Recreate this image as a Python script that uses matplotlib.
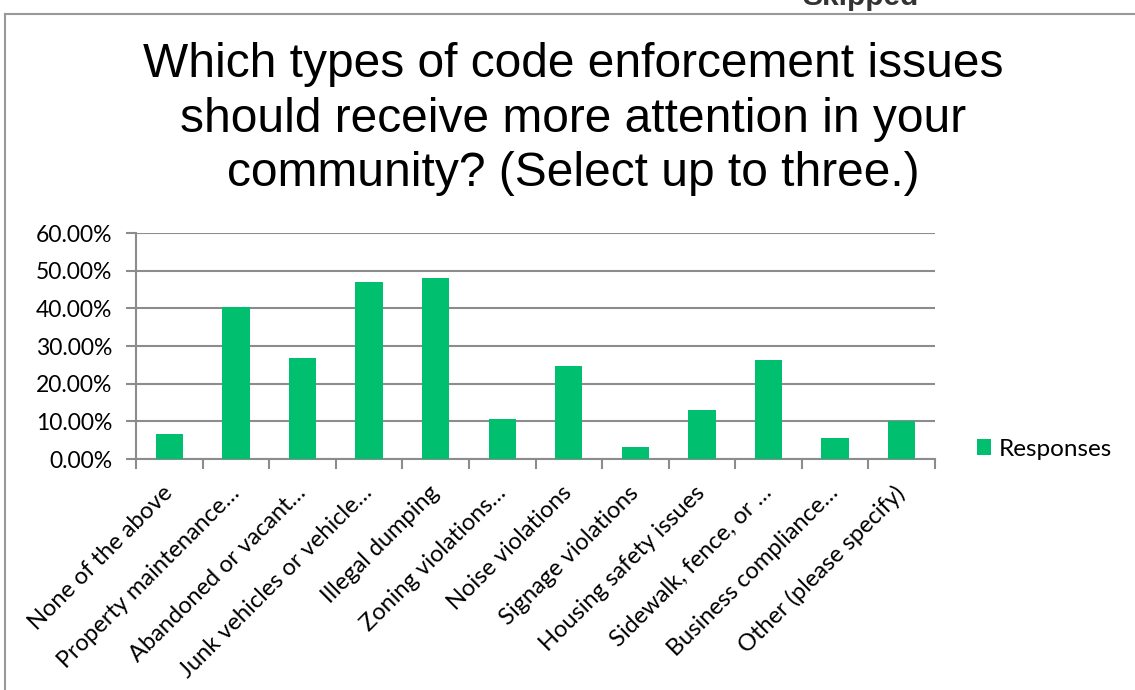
import matplotlib.pyplot as plt
import matplotlib.lines as mlines
import numpy as np
from matplotlib.ticker import FuncFormatter

# survey answers
categories = ["None of the above", "Property maintenance…", "Abandoned or vacant…",
              "Junk vehicles or vehicle…", "Illegal dumping", "Zoning violations…",
              "Noise violations", "Signage violations", "Housing safety issues",
              "Sidewalk, fence, or …", "Business compliance…", "Other (please specify)"]
responses = [0.067, 0.404, 0.268, 0.469, 0.480, 0.106, 0.247, 0.033, 0.130, 0.264, 0.055, 0.101]
title = "Which types of code enforcement issues\nshould receive more attention in your\ncommunity? (Select up to three.)"

green = "#00BF6F"
grid_col = "#8c8c8c"
label_font = ["Lato", "DejaVu Sans"]

fig = plt.figure(figsize=(11.35, 6.9), dpi=100)
W, H = 1135, 690

# outer frame (only left and top edges are in view)
fig.add_artist(mlines.Line2D([5 / W, 5 / W], [0, 1 - 14 / H], transform=fig.transFigure,
                             color="#999999", lw=1.5))
fig.add_artist(mlines.Line2D([5 / W, 1], [1 - 14 / H, 1 - 14 / H], transform=fig.transFigure,
                             color="#999999", lw=1.5))
fig.text(860 / W, 1 - 5 / H, "Skipped", ha="center", va="baseline", fontsize=21.5,
         fontweight="bold", color="#333333", family="Liberation Sans")

fig.text(573 / W, 1 - 119 / H, title, ha="center", va="center", fontsize=34.5,
         family="Liberation Sans", linespacing=1.26)

ax = fig.add_axes([136 / W, 1 - 459 / H, (935 - 136) / W, (459 - 233) / H])
x = np.arange(len(categories))
ax.bar(x, responses, width=0.41, color=green, label="Responses", zorder=3)

ax.set_xlim(-0.5, len(categories) - 0.5)
ax.set_ylim(0, 0.6)
ax.set_yticks(np.arange(0, 0.61, 0.1))
ax.yaxis.set_major_formatter(FuncFormatter(lambda v, p: f"{v * 100:.2f}%"))
ax.grid(axis="y", color=grid_col, lw=1.5, zorder=0)

ax.set_xticks(x)
ax.set_xticklabels(categories, rotation=45, ha="right", va="center", rotation_mode="anchor",
                   family=label_font, fontsize=17)
ax.set_xticks(np.arange(-0.5, len(categories)), minor=True)
ax.tick_params(axis="x", which="major", length=0, pad=22)
ax.tick_params(axis="x", which="minor", length=7, width=1.5, color=grid_col)
ax.tick_params(axis="y", length=7, width=1.5, color=grid_col, pad=10)
for lab in ax.get_yticklabels():
    lab.set_family(label_font)
    lab.set_fontsize(16.5)

for s in ["top", "right"]:
    ax.spines[s].set_visible(False)
for s in ["left", "bottom"]:
    ax.spines[s].set_color(grid_col)
    ax.spines[s].set_linewidth(1.5)

fig.legend(loc="center left", bbox_to_anchor=(955 / W, 1 - 449 / H), frameon=False,
           handlelength=0.6, handleheight=0.6, handletextpad=0.3,
           prop={"family": label_font, "size": 17.5})

fig.savefig("out.png", dpi=100)
